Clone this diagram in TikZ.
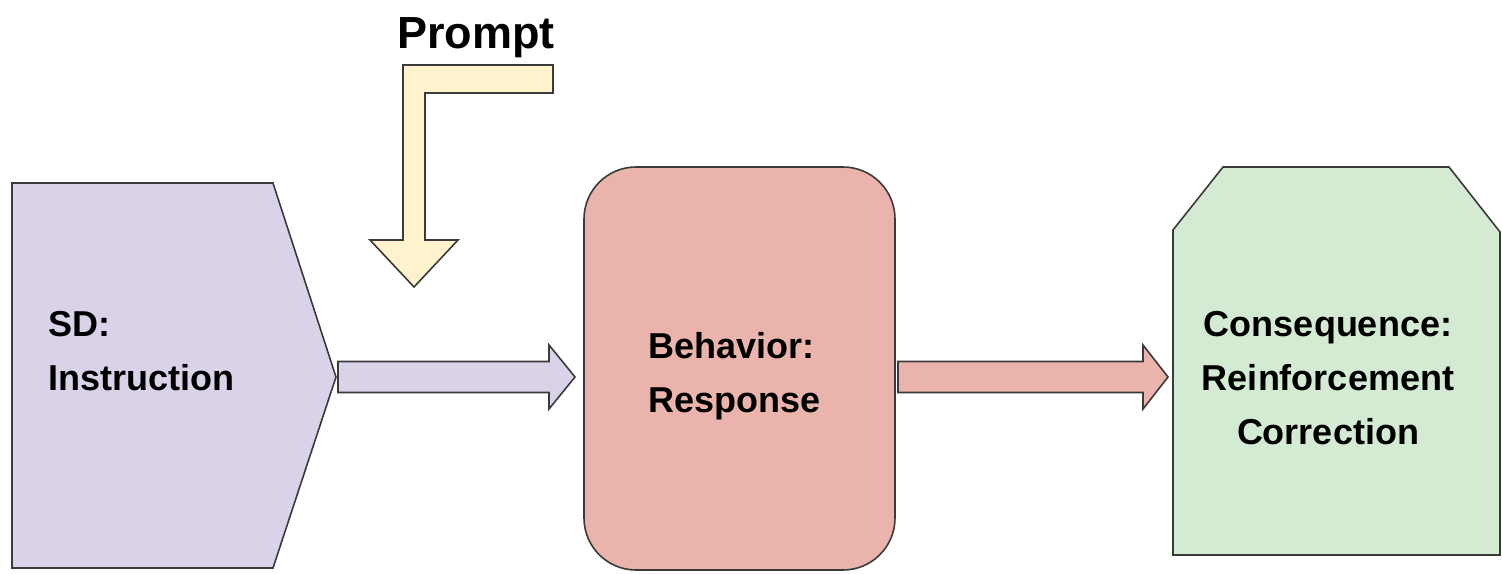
\documentclass[tikz,border=0pt]{standalone}
\usepackage{fontspec}
\setmainfont{Liberation Sans}
\usetikzlibrary{calc}
\definecolor{sdfill}{HTML}{D9D2E9}
\definecolor{behfill}{HTML}{EAB3AB}
\definecolor{consfill}{HTML}{D4EBD3}
\definecolor{promptfill}{HTML}{FFF2CC}
\definecolor{edge}{HTML}{3A3A3A}
\begin{document}
\begin{tikzpicture}[x=1pt,y=-1pt,
  box/.style={draw=edge, line width=1.6pt, line join=miter},
  lbl/.style={font=\bfseries\fontsize{36}{54}\selectfont, inner sep=0pt, align=left, text=black}]
\useasboundingbox (0,0) rectangle (1502,573);

% SD: Instruction (pentagon)
\filldraw[box, fill=sdfill] (12,183) -- (273,183) -- (336,377) -- (273,568) -- (12,568) -- cycle;
\node[lbl, anchor=west] (sd) at (48,351) {SD:\\Instruction};

% Behavior: Response (rounded rectangle)
\filldraw[box, fill=behfill, rounded corners=52pt] (584,167) rectangle (895,570);
\node[lbl, anchor=west] (beh) at (648,376) {Behavior:\\Response};

% Consequence (chamfered box)
\filldraw[box, fill=consfill] (1173,555) -- (1173,230) -- (1223,167) -- (1449,167) -- (1500,232) -- (1500,555) -- cycle;
\node[lbl, align=center] (cons) at (1328,378) {Consequence:\\Reinforcement\\Correction};

% Block arrow 1
\coordinate (a1s) at (338,377);
\coordinate (a1e) at (575,377);
\filldraw[box, fill=sdfill] ($(a1s)+(0,-15.5)$) -- ($(a1e)+(-26,-15.5)$) -- ($(a1e)+(-26,-32)$) -- (a1e)
  -- ($(a1e)+(-26,32)$) -- ($(a1e)+(-26,15.5)$) -- ($(a1s)+(0,15.5)$) -- cycle;

% Block arrow 2
\coordinate (a2s) at (898,377);
\coordinate (a2e) at (1168,377);
\filldraw[box, fill=behfill] ($(a2s)+(0,-15.5)$) -- ($(a2e)+(-25,-15.5)$) -- ($(a2e)+(-25,-32)$) -- (a2e)
  -- ($(a2e)+(-25,32)$) -- ($(a2e)+(-25,15.5)$) -- ($(a2s)+(0,15.5)$) -- cycle;

% Prompt bent arrow
\filldraw[box, fill=promptfill] (553,65) -- (403,65) -- (403,240) -- (370,240) -- (414,287) -- (458,240)
  -- (425,240) -- (425,93) -- (553,93) -- cycle;
\node[font=\bfseries\fontsize{45}{54}\selectfont, inner sep=0pt, anchor=base] (prompt) at (476,48) {Prompt};
\end{tikzpicture}
\end{document}
